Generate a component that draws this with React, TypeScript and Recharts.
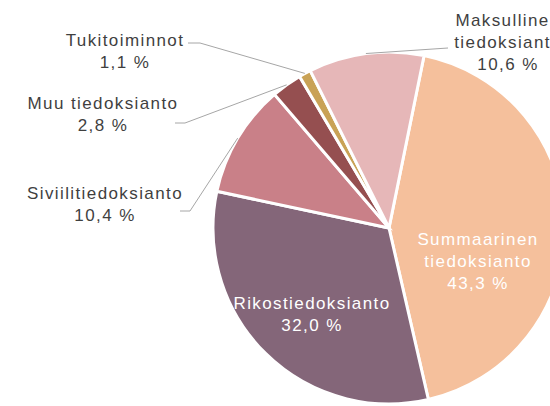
import React from "react"
import { PieChart, Pie, Cell } from "recharts"

const categories = [
    "Summaarinen tiedoksianto",
    "Rikostiedoksianto",
    "Siviilitiedoksianto",
    "Muu tiedoksianto",
    "Tukitoiminnot",
    "Maksullinen tiedoksianto",
]
const shares = [43.3, 32.0, 10.4, 2.8, 1.1, 10.6]
const colors = ["#F5C09C", "#846679", "#C98088", "#954F50", "#C9A256", "#E6B7B8"]

// label placement relative to pie centre: text block centre, leader elbow + tail
const labelLayout = [
    { dx: 89, dy: 33, wrap: true, inside: true },
    { dx: -77, dy: 86, wrap: false, inside: true },
    { dx: -284, dy: -24, wrap: false, inside: false, elbow: [-199, -17], tail: [-209, -17] },
    { dx: -286, dy: -114, wrap: false, inside: false, elbow: [-204, -105], tail: [-214, -105] },
    { dx: -264, dy: -177, wrap: false, inside: false, elbow: [-189, -185], tail: [-201, -185] },
    { dx: 119, dy: -186, wrap: true, inside: false, elbow: [59, -180], tail: [59, -180] },
]

const data = categories.map((name, i) => ({ name, value: shares[i] }))

const RADIAN = Math.PI / 180
const LINE_H = 22

function renderLabel(props: any) {
    const { cx, cy, midAngle, outerRadius, index, name, value } = props
    const lay = labelLayout[index]
    const lines = lay.wrap ? name.split(" ") : [name]
    lines.push(value.toFixed(1).replace(".", ",") + " %")
    const x = cx + lay.dx
    const y0 = cy + lay.dy - ((lines.length - 1) * LINE_H) / 2
    let leader = null
    if (!lay.inside) {
        const ex = cx + outerRadius * Math.cos(-midAngle * RADIAN)
        const ey = cy + outerRadius * Math.sin(-midAngle * RADIAN)
        const pts = `${ex},${ey} ${cx + lay.elbow[0]},${cy + lay.elbow[1]} ${cx + lay.tail[0]},${cy + lay.tail[1]}`
        leader = <polyline points={pts} fill="none" stroke="#a6a6a6" strokeWidth={1} />
    }
    return (
        <g key={`lbl-${index}`}>
            {leader}
            <text
                x={x}
                y={y0}
                textAnchor="middle"
                dominantBaseline="central"
                fill={lay.inside ? "#ffffff" : "#3f3f3f"}
                style={{ fontSize: 17, letterSpacing: 1.4, fontFamily: "'Liberation Sans', Arial, sans-serif" }}
            >
                {lines.map((l: string, i: number) => (
                    <tspan key={i} x={x} dy={i === 0 ? 0 : LINE_H}>{l}</tspan>
                ))}
            </text>
        </g>
    )
}

export default function App() {
    return (
        <div style={{ position: "absolute", left: 0, top: 0, width: 550, height: 406, background: "#fff", overflow: "hidden" }}>
            <PieChart width={550} height={406} margin={{ top: 0, right: 0, bottom: 0, left: 0 }}>
                <Pie
                    data={data}
                    dataKey="value"
                    nameKey="name"
                    cx={389}
                    cy={228}
                    outerRadius={176}
                    startAngle={78.5}
                    endAngle={-281.5}
                    stroke="#ffffff"
                    strokeWidth={3}
                    label={renderLabel}
                    labelLine={false}
                    isAnimationActive={false}
                >
                    {data.map((d, i) => (
                        <Cell key={d.name} fill={colors[i]} />
                    ))}
                </Pie>
            </PieChart>
        </div>
    )
}
